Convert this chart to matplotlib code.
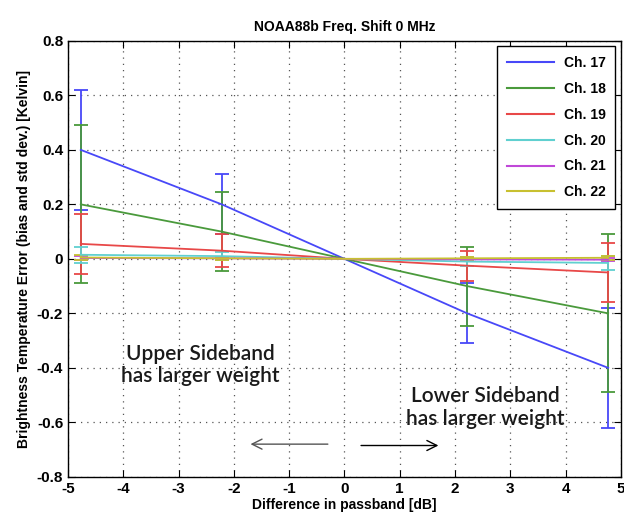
import matplotlib.pyplot as plt
from matplotlib.lines import Line2D
import numpy as np

# passband difference positions [dB]
x = [-4.77, -2.22, 0.0, 2.22, 4.77]

channels = ["Ch. 17", "Ch. 18", "Ch. 19", "Ch. 20", "Ch. 21", "Ch. 22"]

# bias per channel
bias17 = [0.40, 0.20, 0.0, -0.20, -0.40]
bias18 = [0.20, 0.10, 0.0, -0.10, -0.20]
bias19 = [0.055, 0.03, 0.0, -0.025, -0.05]
bias20 = [0.015, 0.01, 0.0, -0.01, -0.015]
bias21 = [0.003, 0.002, 0.0, -0.002, -0.003]
bias22 = [0.005, 0.002, 0.0, 0.002, 0.004]

# std dev per channel
std17 = [0.22, 0.11, 0.0, 0.11, 0.22]
std18 = [0.29, 0.145, 0.0, 0.145, 0.29]
std19 = [0.11, 0.06, 0.0, 0.055, 0.11]
std20 = [0.03, 0.015, 0.0, 0.015, 0.025]
std21 = [0.006, 0.004, 0.0, 0.004, 0.006]
std22 = [0.008, 0.005, 0.0, 0.005, 0.008]

biases = [bias17, bias18, bias19, bias20, bias21, bias22]
stds = [std17, std18, std19, std20, std21, std22]
colors = ["#4848f8", "#4a9a3c", "#e84848", "#60d0d0", "#c048d8", "#c8c030"]

plt.rcParams['font.family'] = ['Liberation Sans Narrow', 'Liberation Sans', 'DejaVu Sans']
plt.rcParams['axes.unicode_minus'] = False

fig = plt.figure(figsize=(6.24, 5.24), dpi=100)
ax = fig.add_axes([0.109, 0.09, 0.886, 0.832])

for name, b, s, c in zip(channels, biases, stds, colors):
    ax.errorbar(x, b, yerr=s, color=c, lw=1.3, capsize=5, capthick=1.3,
                elinewidth=1.3, label=name)

ax.set_xlim(-5, 5)
ax.set_ylim(-0.8, 0.8)
ax.set_xticks(np.arange(-5, 6, 1))
ax.set_yticks(np.arange(-0.8, 0.81, 0.2))
ax.set_yticklabels(["-0.8", "-0.6", "-0.4", "-0.2", "0", "0.2", "0.4", "0.6", "0.8"])
ax.grid(True, linestyle=(0, (1, 4)), color="#555555", lw=0.9)
ax.tick_params(direction="in", top=True, right=True, length=5, labelsize=11)
for lab in ax.get_xticklabels() + ax.get_yticklabels():
    lab.set_fontweight("bold")
for sp in ax.spines.values():
    sp.set_linewidth(1.0)

ax.set_title("NOAA88b Freq. Shift 0 MHz", fontsize=10, fontweight="bold", pad=7)
ax.set_xlabel("Difference in passband [dB]", fontsize=10, fontweight="bold", labelpad=2)
ax.set_ylabel("Brightness Temperature Error (bias and std dev.) [Kelvin]",
              fontsize=10, fontweight="bold", labelpad=4)

handles = [Line2D([], [], color=c, lw=1.5) for c in colors]
leg = ax.legend(handles, channels, loc="upper right", fontsize=10, handlelength=3.4,
                labelspacing=0.85, fancybox=False, edgecolor="black", framealpha=1,
                borderaxespad=0.4, borderpad=0.7, handletextpad=0.7)
for t in leg.get_texts():
    t.set_fontweight("bold")
leg.get_frame().set_linewidth(1.0)

ax.text(-2.6, -0.39, "Upper Sideband\nhas larger weight", ha="center", va="center",
        fontsize=15, family=["Lato", "DejaVu Sans"], fontweight="semibold",
        linespacing=1.15, color="#1a1a1a")
ax.text(2.55, -0.545, "Lower Sideband\nhas larger weight", ha="center", va="center",
        fontsize=15, family=["Lato", "DejaVu Sans"], fontweight="semibold",
        linespacing=1.15, color="#1a1a1a")

ax.annotate("", xy=(-1.75, -0.68), xytext=(-0.25, -0.68),
            arrowprops=dict(arrowstyle="->", color="#555555", lw=1.0, mutation_scale=18))
ax.annotate("", xy=(1.75, -0.685), xytext=(0.25, -0.685),
            arrowprops=dict(arrowstyle="->", color="black", lw=1.0, mutation_scale=18))

fig.savefig("out.png", dpi=100)
